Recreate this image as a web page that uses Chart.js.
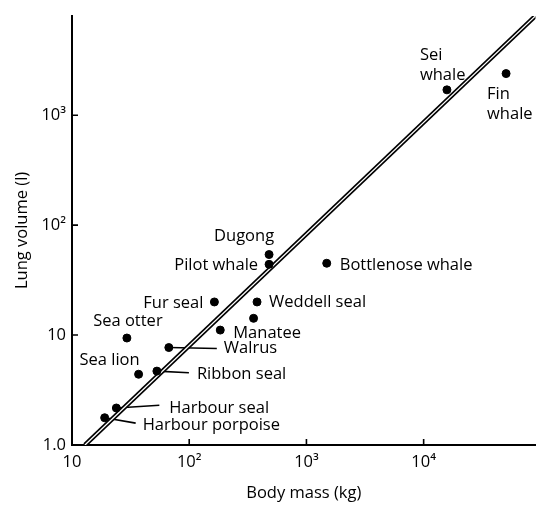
<!DOCTYPE html>
<html>
<head>
<meta charset="utf-8">
<script src="https://cdn.jsdelivr.net/npm/chart.js@4.4.1/dist/chart.umd.min.js"></script>
<style>
  html, body { margin: 0; padding: 0; background: #fff; }
  #wrap { width: 541px; height: 507px; }
</style>
</head>
<body>
<div id="wrap"><canvas id="myChart" width="541" height="507"></canvas></div>
<script>
// Lungenvolumen gegen Körpermasse (log-log)
const animals = ['Sei whale', 'Fin whale', 'Dugong', 'Pilot whale', 'Bottlenose whale',
    'Fur seal', 'Weddell seal', '', 'Manatee', 'Sea otter', 'Sea lion', 'Walrus',
    'Ribbon seal', 'Harbour seal', 'Harbour porpoise'];
const bodyMass = [15800, 50500, 480, 480, 1490, 164, 379, 354, 184, 29.4, 37, 67, 53, 23.9, 19];
const lungVolume = [1700, 2390, 54, 44, 45, 20, 20, 14.2, 11.1, 9.4, 4.4, 7.7, 4.7, 2.17, 1.77];

// Regressionsgerade (Endpunkte)
const fitMass = [12.9, 90000];
const fitVolume = [1.0, 8000];

const xTicks = [10, 100, 1000, 10000];
const xTickLabels = ['10', '10²', '10³', '10⁴'];
const yTicks = [1, 10, 100, 1000];
const yTickLabels = ['1.0', '10', '10²', '10³'];

// Beschriftung: Lage relativ zum Punkt (px)
const labelPlace = [
    {dx: -27, dy: -35, align: 'left', wrap: true},
    {dx: -19, dy: 21, align: 'left', wrap: true},
    {dx: -25, dy: -18, align: 'center'},
    {dx: -11, dy: 1, align: 'right'},
    {dx: 13, dy: 2, align: 'left'},
    {dx: -11, dy: 1.5, align: 'right'},
    {dx: 12, dy: 0, align: 'left'},
    null,
    {dx: 13, dy: 3, align: 'left'},
    {dx: 1, dy: -17, align: 'center'},
    {dx: 1, dy: -14, align: 'right'},
    {dx: 55, dy: 1, align: 'left', leader: [48, 1]},
    {dx: 40, dy: 3, align: 'left', leader: [32, 1.7]},
    {dx: 53, dy: 0, align: 'left', leader: [43, -2.7]},
    {dx: 38, dy: 7.7, align: 'left', leader: [31, 5.4]}
];

const fontFamily = '"Open Sans", "DejaVu Sans", sans-serif';
const fontSize = 16.5;

const scatterData = bodyMass.map((m, i) => ({x: m, y: lungVolume[i]}));
const fitData = fitMass.map((m, i) => ({x: m, y: fitVolume[i]}));

const annotate = {
    id: 'annotate',
    beforeDatasetsDraw(chart) {
        const ctx = chart.ctx;
        const pts = chart.getDatasetMeta(0).data;
        ctx.save();
        ctx.strokeStyle = '#000';
        ctx.lineWidth = 1.6;
        labelPlace.forEach((p, i) => {
            if (!p || !p.leader) return;
            const pt = pts[i];
            ctx.beginPath();
            ctx.moveTo(pt.x, pt.y);
            ctx.lineTo(pt.x + p.leader[0], pt.y + p.leader[1]);
            ctx.stroke();
        });
        ctx.restore();
    },
    afterDatasetsDraw(chart) {
        const ctx = chart.ctx;
        const pts = chart.getDatasetMeta(0).data;
        ctx.save();
        ctx.fillStyle = '#000';
        ctx.font = '500 ' + fontSize + 'px ' + fontFamily;
        ctx.textBaseline = 'middle';
        labelPlace.forEach((p, i) => {
            if (!p) return;
            const pt = pts[i];
            ctx.textAlign = p.align;
            const lines = p.wrap ? animals[i].split(' ') : [animals[i]];
            lines.forEach((t, k) => {
                ctx.fillText(t, pt.x + p.dx, pt.y + p.dy + k * 20);
            });
        });
        ctx.restore();
    },
    afterDraw(chart) {
        // Tickmarks nach innen
        const ctx = chart.ctx;
        const xs = chart.scales.x, ys = chart.scales.y;
        ctx.save();
        ctx.strokeStyle = '#000';
        ctx.lineWidth = 1.6;
        ctx.beginPath();
        xTicks.slice(1).forEach(v => {
            const px = xs.getPixelForValue(v);
            ctx.moveTo(px, ys.bottom);
            ctx.lineTo(px, ys.bottom - 6);
        });
        yTicks.slice(1).forEach(v => {
            const py = ys.getPixelForValue(v);
            ctx.moveTo(xs.left, py);
            ctx.lineTo(xs.left + 6, py);
        });
        ctx.stroke();
        ctx.restore();
    }
};

const tickFont = {family: fontFamily, size: fontSize, weight: '500'};

const config = {
    type: 'scatter',
    data: {
        datasets: [
            {
                label: 'Tiere',
                data: scatterData,
                backgroundColor: '#000',
                borderColor: '#000',
                pointRadius: 4,
                pointHoverRadius: 4,
                order: 0
            },
            {
                label: 'Gerade innen',
                data: fitData,
                showLine: true,
                borderColor: '#fff',
                borderWidth: 1.3,
                pointRadius: 0,
                order: 1
            },
            {
                label: 'Gerade aussen',
                data: fitData,
                showLine: true,
                borderColor: '#000',
                borderWidth: 4.6,
                pointRadius: 0,
                order: 2
            }
        ]
    },
    options: {
        responsive: false,
        animation: false,
        devicePixelRatio: 1,
        layout: {padding: {top: 8, right: 5.5, left: 0, bottom: 0}},
        plugins: {
            legend: {display: false},
            tooltip: {enabled: false}
        },
        scales: {
            x: {
                type: 'logarithmic',
                min: 10,
                max: 90000,
                afterBuildTicks: s => { s.ticks = xTicks.map(v => ({value: v})); },
                afterFit: s => { s.height = 62; },
                grid: {display: false, drawTicks: false},
                border: {display: true, color: '#000', width: 2},
                ticks: {
                    color: '#000',
                    font: tickFont,
                    padding: 7,
                    maxRotation: 0,
                    autoSkip: false,
                    callback: v => xTickLabels[xTicks.indexOf(v)]
                },
                title: {
                    display: true,
                    text: 'Body mass (kg)',
                    color: '#000',
                    font: tickFont,
                    padding: {top: 0, bottom: 4}
                }
            },
            y: {
                type: 'logarithmic',
                min: 1,
                max: 8000,
                afterBuildTicks: s => { s.ticks = yTicks.map(v => ({value: v})); },
                afterFit: s => { s.width = 72; },
                grid: {display: false, drawTicks: false},
                border: {display: true, color: '#000', width: 2},
                ticks: {
                    color: '#000',
                    font: tickFont,
                    padding: 6,
                    autoSkip: false,
                    callback: v => yTickLabels[yTicks.indexOf(v)]
                },
                title: {
                    display: true,
                    text: 'Lung volume (l)',
                    color: '#000',
                    font: tickFont,
                    padding: {top: 12, bottom: 0}
                }
            }
        }
    },
    plugins: [annotate]
};

const ctx = document.querySelector('#myChart').getContext('2d');
new Chart(ctx, config);
</script>
</body>
</html>
